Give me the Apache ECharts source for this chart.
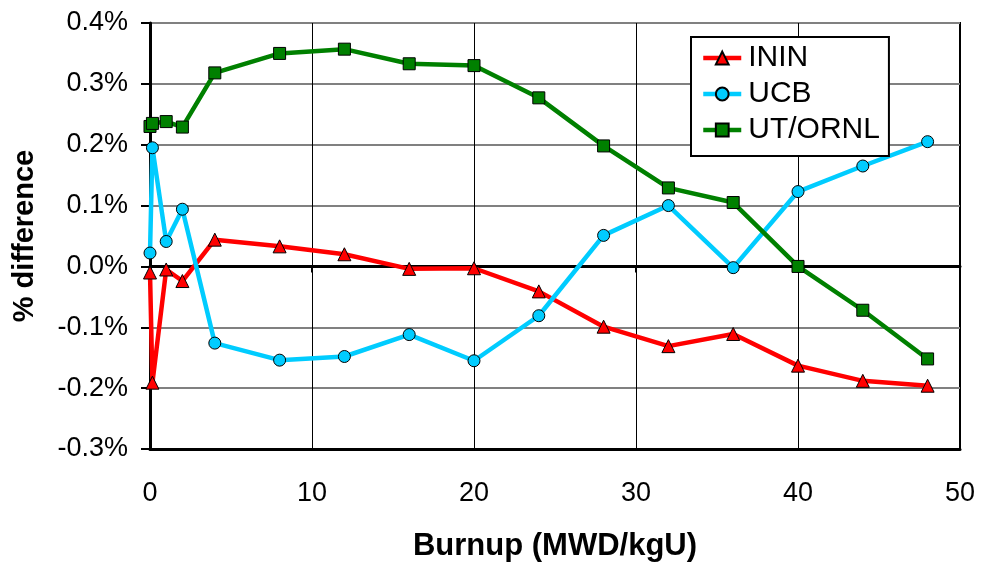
<!DOCTYPE html>
<html>
<head>
<meta charset="utf-8">
<script src="https://cdn.jsdelivr.net/npm/echarts@6/dist/echarts.min.js"></script>
<style>
  html, body { margin: 0; padding: 0; background: #fff; }
  #chart { width: 984px; height: 572px; }
</style>
</head>
<body>
<div id="chart"></div>
<script>
// burnup points (MWD/kgU)
const burnup = [0, 0.15, 1, 2, 4, 8, 12, 16, 20, 24, 28, 32, 36, 40, 44, 48];
// % difference per code
const inin = [-0.010, -0.191, -0.005, -0.024, 0.044, 0.033, 0.020, -0.004, -0.003, -0.041, -0.099, -0.131, -0.111, -0.163, -0.188, -0.196];
const ucb = [0.022, 0.195, 0.041, 0.094, -0.126, -0.154, -0.148, -0.112, -0.155, -0.081, 0.051, 0.100, -0.002, 0.123, 0.165, 0.205];
const utornl = [0.230, 0.235, 0.238, 0.229, 0.318, 0.350, 0.357, 0.333, 0.330, 0.277, 0.198, 0.129, 0.105, 0.000, -0.072, -0.152];
const seriesNames = ["ININ", "UCB", "UT/ORNL"];

const font = "'Liberation Sans', Arial, sans-serif";

function pairs(ys) {
  return burnup.map((x, i) => [x, ys[i]]);
}

const chart = echarts.init(document.getElementById("chart"));

function lineSeries(name, ys, color, symbol, size) {
  return {
    name: name,
    type: "line",
    xAxisIndex: 0,
    data: pairs(ys),
    symbol: symbol,
    symbolSize: size,
    showAllSymbol: true,
    lineStyle: { color: color, width: 4.5 },
    itemStyle: { color: color, borderColor: "#000", borderWidth: 1 },
    emphasis: { disabled: true },
    animation: false,
  };
}

chart.setOption({
  animation: false,
  grid: {
    left: 150,
    right: 24,
    top: 23,
    bottom: 123,
    show: true,
    borderColor: "#000",
    borderWidth: 2,
    backgroundColor: "transparent",
  },
  legend: {
    orient: "vertical",
    left: 691,
    top: 37,
    padding: [6, 9, 11, 10],
    itemGap: 6,
    itemWidth: 38,
    itemHeight: 16,
    backgroundColor: "#fff",
    borderColor: "#000",
    borderWidth: 2,
    lineStyle: { width: 4.5 },
    textStyle: { fontFamily: font, fontSize: 30, color: "#000", padding: [0, 0, 0, 2] },
    data: seriesNames,
  },
  xAxis: [
    {
      type: "value",
      min: 0,
      max: 50,
      interval: 10,
      position: "bottom",
      axisLine: { onZero: false, lineStyle: { color: "#000", width: 3 } },
      axisTick: { show: false },
      axisLabel: { fontFamily: font, fontSize: 27, color: "#000", margin: 31 },
      splitLine: { show: true, lineStyle: { color: "#000", width: 1 } },
      name: "Burnup (MWD/kgU)",
      nameLocation: "middle",
      nameGap: 82,
      nameTextStyle: { fontFamily: font, fontSize: 31, fontWeight: "bold", color: "#000" },
    },
    {
      type: "value",
      min: 0,
      max: 50,
      interval: 10,
      position: "bottom",
      axisLine: { onZero: true, lineStyle: { color: "#000", width: 3 } },
      axisTick: { show: true, length: 6, lineStyle: { color: "#000", width: 2 } },
      axisLabel: { show: false },
      splitLine: { show: false },
    },
  ],
  yAxis: {
    type: "value",
    min: -0.3,
    max: 0.4,
    interval: 0.1,
    axisLine: { show: true, lineStyle: { color: "#000", width: 3 } },
    axisTick: { show: true, length: 9, lineStyle: { color: "#000", width: 2 } },
    axisLabel: {
      fontFamily: font,
      fontSize: 27,
      color: "#000",
      margin: 22,
      formatter: (v) => v.toFixed(1) + "%",
    },
    splitLine: { show: true, lineStyle: { color: "#808080", width: 2 } },
    name: "% difference",
    nameLocation: "middle",
    nameGap: 111,
    nameTextStyle: { fontFamily: font, fontSize: 29, fontWeight: "bold", color: "#000" },
  },
  series: [
    lineSeries("ININ", inin, "#ff0000", "triangle", 13),
    lineSeries("UCB", ucb, "#00ccff", "circle", 12),
    lineSeries("UT/ORNL", utornl, "#008000", "rect", 12),
  ],
});
</script>
</body>
</html>
